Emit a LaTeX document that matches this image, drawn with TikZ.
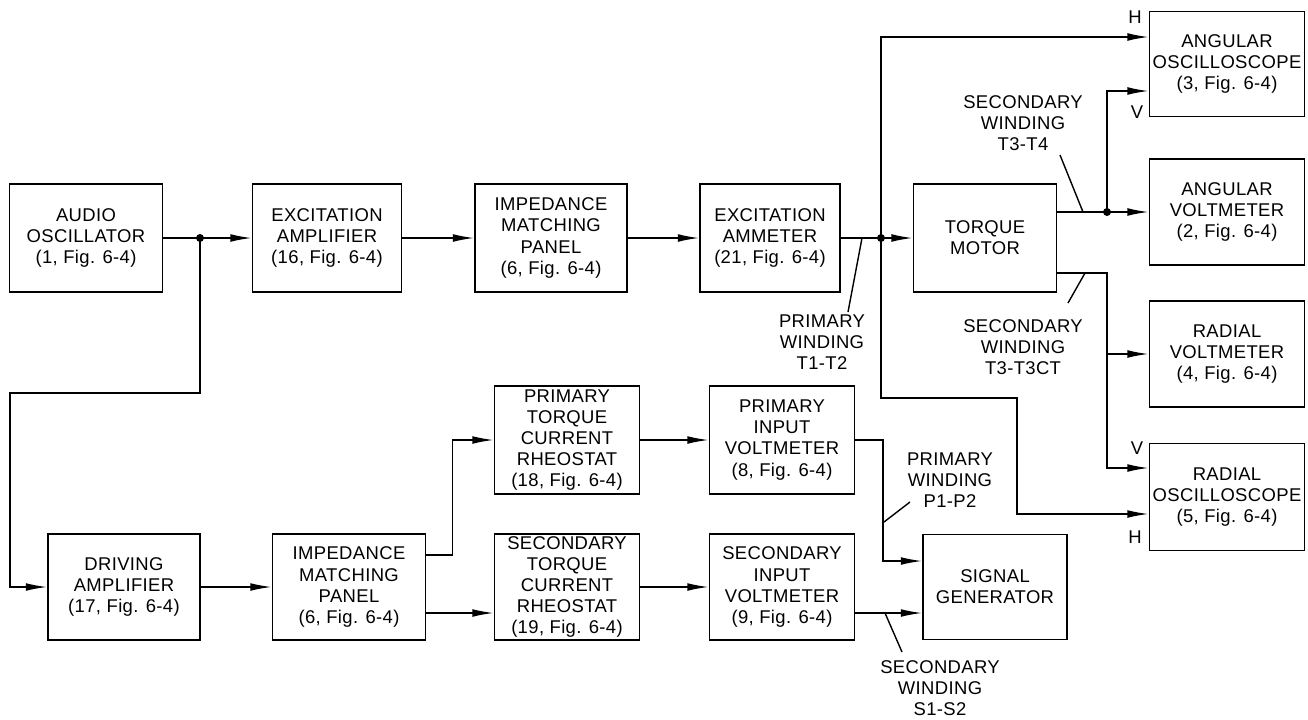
\documentclass[tikz,border=0pt]{standalone}
\usepackage{fontspec}
\setmainfont{Liberation Sans}[LetterSpace=2]
\usetikzlibrary{arrows.meta,calc}

\tikzset{
  blk/.style={draw, line width=1.1pt, minimum width=30mm, minimum height=21.6mm,
    align=center, inner sep=1pt, font=\fontsize{10.5}{12}\selectfont},
  txt/.style={align=center, inner sep=1pt, font=\fontsize{10.5}{12}\selectfont},
  wire/.style={line width=0.8pt},
  dot/.style={circle, fill, inner sep=0pt, minimum size=1.6mm}
}

\begin{document}
\begin{tikzpicture}[x=0.2mm, y=-0.2mm, >={Latex[length=12pt,width=4.4pt]}]
  \useasboundingbox (0,0) rectangle (1308,719);

  % excitation chain
  \node[blk, minimum width=30.6mm] (aud) at (86,238) {AUDIO\\OSCILLATOR\\(1, Fig. 6-4)};
  \node[blk, minimum width=29.8mm] (exa) at (327,238) {EXCITATION\\AMPLIFIER\\(16, Fig. 6-4)};
  \node[blk, minimum width=30.4mm] (imp1) at (551,238) {IMPEDANCE\\MATCHING\\PANEL\\(6, Fig. 6-4)};
  \node[blk, minimum width=28mm] (eam) at (770,238) {EXCITATION\\AMMETER\\(21, Fig. 6-4)};
  \node[blk, minimum width=28.6mm] (tm) at (985,238) {TORQUE\\MOTOR};

  % indicators
  \node[blk, minimum width=31mm, minimum height=21mm] (aosc) at (1227,64) {ANGULAR\\OSCILLOSCOPE\\(3, Fig. 6-4)};
  \node[blk, minimum width=31mm, minimum height=21.2mm] (avm) at (1227,212) {ANGULAR\\VOLTMETER\\(2, Fig. 6-4)};
  \node[blk, minimum width=31mm, minimum height=21.2mm] (rvm) at (1227,354) {RADIAL\\VOLTMETER\\(4, Fig. 6-4)};
  \node[blk, minimum width=31mm, minimum height=21.4mm] (rosc) at (1227,497) {RADIAL\\OSCILLOSCOPE\\(5, Fig. 6-4)};

  % driving chain
  \node[blk, minimum width=30.4mm, minimum height=21.2mm] (drv) at (124,587) {DRIVING\\AMPLIFIER\\(17, Fig. 6-4)};
  \node[blk, minimum width=30.6mm, minimum height=21.2mm] (imp2) at (349,587) {IMPEDANCE\\MATCHING\\PANEL\\(6, Fig. 6-4)};
  \node[blk, minimum width=29mm] (prt) at (567,440) {PRIMARY\\TORQUE\\CURRENT\\RHEOSTAT\\(18, Fig. 6-4)};
  \node[blk, minimum width=29mm] (piv) at (782,440) {PRIMARY\\INPUT\\VOLTMETER\\(8, Fig. 6-4)};
  \node[blk, minimum width=29mm, minimum height=21.2mm] (srt) at (567,587) {SECONDARY\\TORQUE\\CURRENT\\RHEOSTAT\\(19, Fig. 6-4)};
  \node[blk, minimum width=29mm, minimum height=21.2mm] (siv) at (782,587) {SECONDARY\\INPUT\\VOLTMETER\\(9, Fig. 6-4)};
  \node[blk, minimum width=28.8mm, minimum height=21mm] (sg) at (995,587) {SIGNAL\\GENERATOR};

  % junctions
  \coordinate (j1) at (200,238);
  \coordinate (j2) at (881,238);
  \coordinate (j3) at (1107,212);
  \coordinate (j4) at (1107,354);
  \coordinate (lp1) at (10,393);
  \coordinate (lp2) at (1017,398);

  % top connections
  \draw[wire,->] (aud) -- (exa);
  \draw[wire,->] (exa) -- (imp1);
  \draw[wire,->] (imp1) -- (eam);
  \draw[wire,->] (eam) -- (tm);
  \draw[wire,->] (j1) |- (lp1) |- (drv.west);
  \draw[wire,->] (j2) |- ($(aosc.west)+(0,-27)$);
  \draw[wire,->] (j2) |- (lp2) |- ($(rosc.west)+(0,17)$);
  \draw[wire,->] ($(tm.east)+(0,-26)$) -- (avm.west);
  \draw[wire,->] (j3) |- ($(aosc.west)+(0,27)$);
  \draw[wire] ($(tm.east)+(0,35)$) -| (j4);
  \draw[wire,->] (j4) -- (rvm.west);
  \draw[wire,->] (j4) |- ($(rosc.west)+(0,-29)$);

  % bottom connections
  \draw[wire,->] (drv) -- (imp2);
  \draw[wire,->] ($(imp2.east)+(0,-32)$) -| ($(prt.west)+(-41,0)$) -- (prt.west);
  \draw[wire,->] ($(imp2.east)+(0,26)$) -- ($(srt.west)+(0,26)$);
  \draw[wire,->] (prt) -- (piv);
  \draw[wire,->] (srt) -- (siv);
  \draw[wire,->] (piv.east) -| ($(sg.west)+(-39,-26)$) -- ($(sg.west)+(0,-26)$);
  \draw[wire,->] ($(siv.east)+(0,26)$) -- ($(sg.west)+(0,26)$);

  \node[dot] (d1) at (j1) {};
  \node[dot] (d2) at (j2) {};
  \node[dot] (d3) at (j3) {};

  % winding labels
  \node[txt] (t12) at (822,342) {PRIMARY\\WINDING\\T1-T2};
  \node[txt] (t34) at (1023,123) {SECONDARY\\WINDING\\T3-T4};
  \node[txt] (t3ct) at (1023,347) {SECONDARY\\WINDING\\T3-T3CT};
  \node[txt] (p12) at (950,480) {PRIMARY\\WINDING\\P1-P2};
  \node[txt] (s12) at (940,688) {SECONDARY\\WINDING\\S1-S2};
  \draw[wire] (848,312) -- (862,238);
  \draw[wire] (1060,155) -- (1083,212);
  \draw[wire] (1068,303) -- (1085,273);
  \draw[wire] (884,522) -- (910,502);
  \draw[wire] (885,613) -- (902,652);

  % H and V inputs
  \node[txt] (ah) at (1135,17) {H};
  \node[txt] (av) at (1137,112) {V};
  \node[txt] (rv) at (1137,448) {V};
  \node[txt] (rh) at (1135,537) {H};
\end{tikzpicture}
\end{document}
